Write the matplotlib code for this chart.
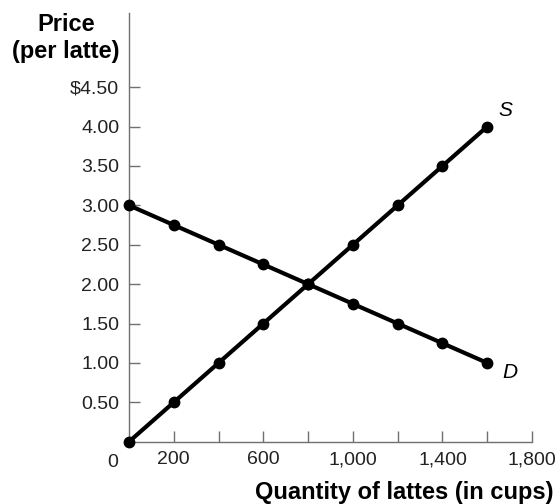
import matplotlib
matplotlib.use("Agg")
import matplotlib.pyplot as plt

# data
quantity = [0, 200, 400, 600, 800, 1000, 1200, 1400, 1600]
supply_price = [0.0, 0.5, 1.0, 1.5, 2.0, 2.5, 3.0, 3.5, 4.0]
demand_price = [3.0, 2.75, 2.5, 2.25, 2.0, 1.75, 1.5, 1.25, 1.0]
y_ticks = [0.5, 1.0, 1.5, 2.0, 2.5, 3.0, 3.5, 4.0, 4.5]
y_labels = ["0.50", "1.00", "1.50", "2.00", "2.50", "3.00", "3.50", "4.00", "$4.50"]
x_ticks = [200, 400, 600, 800, 1000, 1200, 1400, 1600, 1800]
x_labels = ["200", "", "600", "", "1,000", "", "1,400", "", "1,800"]

plt.rcParams['font.family'] = ['Liberation Sans', 'DejaVu Sans']

fig = plt.figure(figsize=(5.59, 5.04), dpi=100)
ax = fig.add_axes([0.2308, 0.1236, 0.7209, 0.8504])

ax.plot(quantity, supply_price, color="black", lw=3, marker="o", ms=7.5, clip_on=False, zorder=3)
ax.plot(quantity, demand_price, color="black", lw=3, marker="o", ms=7.5, clip_on=False, zorder=3)

ax.set_xlim(0, 1800)
ax.set_ylim(0, 5.44)

for s in ["top", "right"]:
    ax.spines[s].set_visible(False)
for s in ["left", "bottom"]:
    ax.spines[s].set_color("#707070")
    ax.spines[s].set_linewidth(1.0)

ax.set_yticks(y_ticks)
ax.set_yticklabels(y_labels)
ax.set_xticks(x_ticks)
ax.set_xticklabels(x_labels)
ax.tick_params(axis="both", direction="in", length=8, width=1.0, color="#707070",
               labelsize=14, labelcolor="#222222")
ax.tick_params(axis="y", pad=7)
ax.tick_params(axis="x", pad=7)

# "0" at the origin
ax.text(-75, -0.15, "0", ha="center", va="top", fontsize=14, color="#222222")

ax.text(1648, 4.21, "S", fontstyle="italic", fontsize=15, ha="left", va="center")
ax.text(1666, 0.88, "D", fontstyle="italic", fontsize=15, ha="left", va="center")

fig.text(0.118, 0.974, "Price\n(per latte)", ha="center", va="top",
         fontsize=17, fontweight="bold", linespacing=1.2)
fig.text(0.99, 0.0, "Quantity of lattes (in cups)", ha="right", va="bottom",
         fontsize=17, fontweight="bold")

fig.savefig("out.png", dpi=100)
